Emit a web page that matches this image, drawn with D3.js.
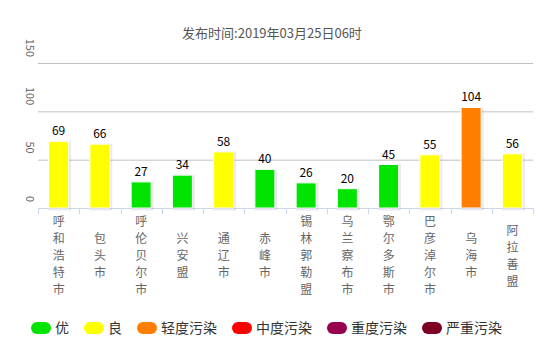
<!DOCTYPE html>
<html><head><meta charset="utf-8">
<script src="https://cdn.jsdelivr.net/npm/d3@7"></script>
<style>body{margin:0;background:#fff;}svg{display:block;font-family:"Noto Sans CJK SC","DejaVu Sans",sans-serif;}</style>
</head><body>
<svg id="c" width="547" height="349"></svg>
<script>
const title = "发布时间:2019年03月25日06时";
const categories = ["呼和浩特市","包头市","呼伦贝尔市","兴安盟","通辽市","赤峰市","锡林郭勒盟","乌兰察布市","鄂尔多斯市","巴彦淖尔市","乌海市","阿拉善盟"];
const values = [69,66,27,34,58,40,26,20,45,55,104,56];
const yTicks = [0,50,100,150];
const levels = ["优","良","轻度污染","中度污染","重度污染","严重污染"];
const levelColors = ["#00e400","#ffff00","#ff7e00","#ff0000","#99004c","#7e0023"];
const levelMax = [50,100,150,200,300,Infinity];

const svg = d3.select("#c");
const pLeft = 38, pRight = 533, pTop = 63, pBottom = 208;
const x = d3.scaleBand().domain(categories).range([pLeft, pRight]).paddingInner(0).paddingOuter(0);
const y = d3.scaleLinear().domain([0,150]).range([pBottom, pTop]);
const levelOf = v => levelMax.findIndex(m => v <= m);

svg.append("text").attr("x", 272).attr("y", 38).attr("text-anchor","middle")
  .attr("font-size", 13).attr("fill", "#555").text(title);

// gridlines
svg.append("g").selectAll("line").data(yTicks.filter(d=>d>0)).join("line")
  .attr("x1", pLeft).attr("x2", pRight).attr("y1", d=>y(d)+0.5).attr("y2", d=>y(d)+0.5)
  .attr("stroke", "#c0c0c0").attr("stroke-width", 1);

// y labels rotated
svg.append("g").selectAll("text").data(yTicks).join("text")
  .attr("transform", d=>`translate(26,${y(d)-6}) rotate(90)`)
  .attr("text-anchor","end").attr("font-size", 11).attr("fill","#666")
  .text(d=>d);

// x axis
const xAxis = d3.axisBottom(x).tickSize(0).tickFormat("");
const gx = svg.append("g").attr("transform", `translate(0,${pBottom})`).call(xAxis);
gx.select(".domain").attr("stroke", "#ccd6eb");
const bounds = d3.range(categories.length+1).map(i => pLeft + i*x.step());
svg.append("g").selectAll("line").data(bounds).join("line")
  .attr("x1", d=>Math.round(d)+0.5).attr("x2", d=>Math.round(d)+0.5)
  .attr("y1", pBottom).attr("y2", pBottom+6).attr("stroke","#ccd6eb");

// bars
const bw = 20;
const bars = svg.append("g").selectAll("g").data(values).join("g");
bars.append("rect")
  .attr("x", (d,i)=>x(categories[i]) + x.bandwidth()/2 - bw/2 + 1)
  .attr("y", d=>y(d)+1).attr("width", bw).attr("height", d=>pBottom - y(d))
  .attr("fill","none").attr("stroke","#000").attr("stroke-opacity",0.08).attr("stroke-width",3);
bars.append("rect")
  .attr("x", (d,i)=>x(categories[i]) + x.bandwidth()/2 - bw/2)
  .attr("y", d=>y(d)).attr("width", bw).attr("height", d=>pBottom - y(d))
  .attr("fill", d=>levelColors[levelOf(d)]).attr("stroke","#fff").attr("stroke-width",1);
bars.append("text")
  .attr("x", (d,i)=>x(categories[i]) + x.bandwidth()/2)
  .attr("y", d=>y(d)-6).attr("text-anchor","middle")
  .attr("font-size", 12).attr("fill","#000").text(d=>d);

// x labels vertical
const pitch = 17;
const lab = svg.append("g").selectAll("g").data(categories).join("g")
  .attr("transform", d=>`translate(${x(d)+x.bandwidth()/2},0)`);
lab.each(function(d){
  const chars = Array.from(d);
  const n = chars.length;
  const cy = 256;
  d3.select(this).selectAll("text").data(chars).join("text")
    .attr("x", 0).attr("y", (c,j)=>cy + (j - (n-1)/2)*pitch + 4)
    .attr("text-anchor","middle").attr("font-size", 12).attr("fill","#666").text(c=>c);
});

// legend
let lx = 31;
const ly = 328;
levels.forEach((l,i)=>{
  const g = svg.append("g");
  g.append("rect").attr("x", lx).attr("y", ly-6).attr("width",20).attr("height",12)
    .attr("rx",6).attr("fill", levelColors[i]);
  const t = g.append("text").attr("x", lx+24).attr("y", ly+5).attr("font-size",14)
    .attr("fill","#333").text(l);
  const w = t.node().getComputedTextLength();
  lx = lx + 24 + w + 15;
});
</script>
</body></html>
